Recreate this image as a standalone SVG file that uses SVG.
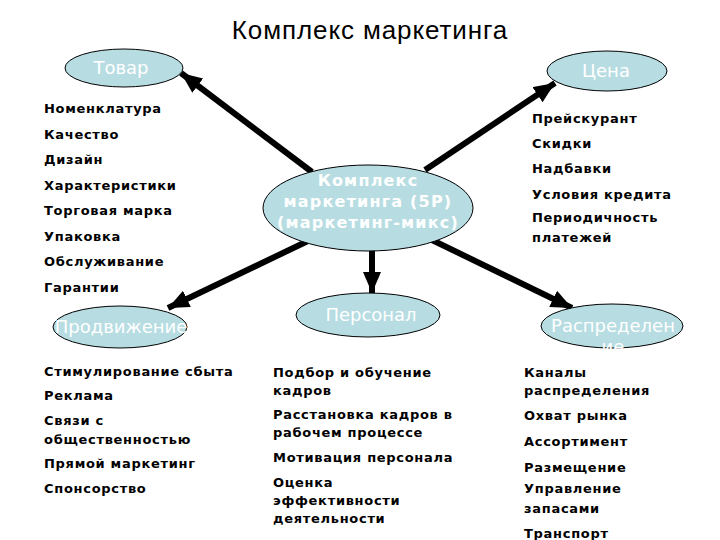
<svg xmlns="http://www.w3.org/2000/svg" width="720" height="540" viewBox="0 0 720 540">
<defs>
<marker id="ah" markerUnits="userSpaceOnUse" markerWidth="24" markerHeight="20" refX="21" refY="9" orient="auto">
<path d="M0,0 L21,9 L0,18 Z" fill="#000"/>
</marker>
<style>
.node ellipse{fill:#b7dde2;stroke:#000;stroke-width:1}
.nl{font-family:"DejaVu Sans",sans-serif;font-size:18px;fill:#fff;text-anchor:middle}
.cl{font-family:"DejaVu Sans",sans-serif;font-size:16px;font-weight:bold;fill:#fff;text-anchor:middle;letter-spacing:1.2px}
.li{font-family:"DejaVu Sans",sans-serif;font-size:13px;font-weight:bold;fill:#000;letter-spacing:0.7px}
.con line{stroke:#000;stroke-width:6;marker-end:url(#ah)}
</style>
</defs>
<rect width="720" height="540" fill="#fff"/>
<text x="370" y="39" font-family="Liberation Sans, Arial, sans-serif" font-size="26" letter-spacing="0.9" text-anchor="middle">Комплекс маркетинга</text>

<g id="connectors" class="con">
<line x1="312" y1="172" x2="181" y2="73"/>
<line x1="425" y1="170" x2="555" y2="83"/>
<line x1="310" y1="240" x2="168" y2="308"/>
<line x1="432" y1="240" x2="572" y2="308"/>
<line x1="372" y1="250" x2="372" y2="293"/>
</g>

<g id="center" class="node">
<ellipse cx="368" cy="208" rx="105" ry="43"/>
<text class="cl" x="368" y="186">Комплекс</text>
<text class="cl" x="368" y="207">маркетинга (5P)</text>
<text class="cl" x="368" y="228">(маркетинг-микс)</text>
</g>

<g id="tovar" class="node">
<ellipse cx="124" cy="68" rx="59" ry="19"/>
<text class="nl" x="121" y="74">Товар</text>
</g>

<g id="cena" class="node">
<ellipse cx="607" cy="71" rx="60" ry="20"/>
<text class="nl" x="606" y="77">Цена</text>
</g>

<g id="prodvizhenie" class="node">
<ellipse cx="120" cy="327" rx="67" ry="21"/>
<text class="nl" x="121" y="333">Продвижение</text>
</g>

<g id="personal" class="node">
<ellipse cx="368" cy="315" rx="72" ry="22"/>
<text class="nl" x="371" y="321">Персонал</text>
</g>

<g id="raspredelenie" class="node">
<ellipse cx="612" cy="326" rx="71" ry="22"/>
<text class="nl" x="613" y="332">Распределен</text>
<text class="nl" x="613" y="353">ие</text>
</g>

<g id="list-tovar" class="li">
<text x="44" y="113">Номенклатура</text>
<text x="44" y="138.5">Качество</text>
<text x="44" y="164">Дизайн</text>
<text x="44" y="189.5">Характеристики</text>
<text x="44" y="215">Торговая марка</text>
<text x="44" y="240.5">Упаковка</text>
<text x="44" y="266">Обслуживание</text>
<text x="44" y="291.5">Гарантии</text>
</g>

<g id="list-cena" class="li">
<text x="532" y="123">Прейскурант</text>
<text x="532" y="148">Скидки</text>
<text x="532" y="173">Надбавки</text>
<text x="532" y="199">Условия кредита</text>
<text x="532" y="222">Периодичность</text>
<text x="532" y="242">платежей</text>
</g>

<g id="list-prodvizhenie" class="li">
<text x="44" y="376">Стимулирование сбыта</text>
<text x="44" y="400">Реклама</text>
<text x="44" y="425">Связи с</text>
<text x="44" y="444">общественностью</text>
<text x="44" y="468">Прямой маркетинг</text>
<text x="44" y="493">Спонсорство</text>
</g>

<g id="list-personal" class="li">
<text x="273" y="377">Подбор и обучение</text>
<text x="273" y="395">кадров</text>
<text x="273" y="419">Расстановка кадров в</text>
<text x="273" y="437">рабочем процессе</text>
<text x="273" y="462">Мотивация персонала</text>
<text x="273" y="487">Оценка</text>
<text x="273" y="505">эффективности</text>
<text x="273" y="523">деятельности</text>
</g>

<g id="list-raspredelenie" class="li">
<text x="524" y="377">Каналы</text>
<text x="524" y="395">распределения</text>
<text x="524" y="420">Охват рынка</text>
<text x="524" y="446">Ассортимент</text>
<text x="524" y="472">Размещение</text>
<text x="524" y="493">Управление</text>
<text x="524" y="513">запасами</text>
<text x="524" y="538">Транспорт</text>
</g>
</svg>
